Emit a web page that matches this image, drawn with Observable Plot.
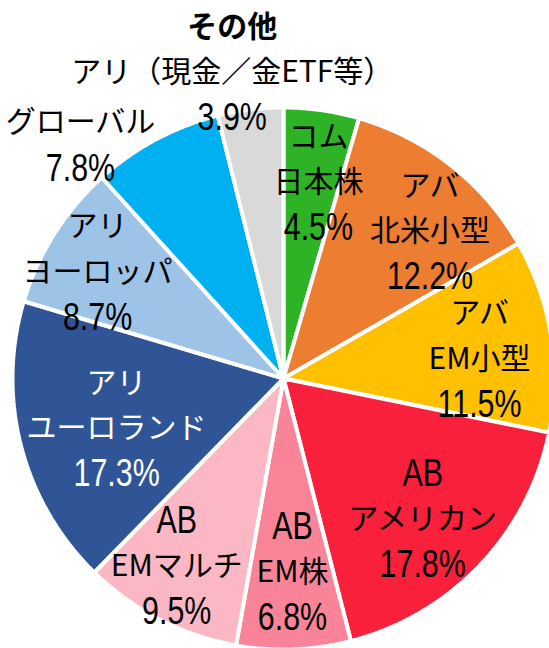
<!DOCTYPE html>
<html><head><meta charset="utf-8">
<script src="https://cdn.jsdelivr.net/npm/d3@7"></script>
<script src="https://cdn.jsdelivr.net/npm/@observablehq/plot@0.6"></script>
<style>html,body{margin:0;padding:0;background:#fff;overflow:hidden}</style>
</head><body><div id="chart"></div>
<script>
// ---- data ----
const names = ["コム\n日本株", "アバ\n北米小型", "アバ\nEM小型", "AB\nアメリカン", "AB\nEM株", "AB\nEMマルチ", "アリ\nユーロランド", "アリ\nヨーロッパ", "グローバル", "その他\nアリ（現金／金ETF等）"];
const shares = [4.5, 12.2, 11.5, 17.8, 6.8, 9.5, 17.3, 8.7, 7.8, 3.9];
const sliceColors = ["#2eb226", "#ed7d31", "#ffc000", "#f8203a", "#fa8497", "#fbb8c4", "#2f5597", "#9dc3e6", "#00b0f0", "#d9d9d9"];
const labelColors = ["#000", "#000", "#000", "#000", "#000", "#000", "#fff", "#000", "#000", "#000"];
// label placement: radius (fraction of pie radius) and angle nudge (deg) from slice mid-angle
const labelRadius = [0.734, 0.765, 0.727, 0.731, 0.716, 0.798, 0.643, 0.79, 1.14, 1.144];
const labelNudge = [2.0, 6.8, 3.6, 1.8, -0.5, 2.4, -2.1, -2.5, -13, -2.5];

// ---- layout ----
const W = 549, H = 648, CX = 283, CY = 378, R = 271;
const FONT = 30, TALL_FONT = 38, NARROW = 0.8, PITCH = 45.5;

const pie = d3.pie().sort(null).value(d => d)(shares);
const rad = Math.PI / 180;

// slice polygons
const slicePts = [];
pie.forEach((p, i) => {
  slicePts.push({i, x: 0, y: 0, color: sliceColors[i]});
  const n = Math.max(8, Math.ceil((p.endAngle - p.startAngle) / (0.5 * rad)));
  for (let k = 0; k <= n; k++) {
    const a = p.startAngle + (p.endAngle - p.startAngle) * k / n;
    slicePts.push({i, x: Math.sin(a), y: Math.cos(a), color: sliceColors[i]});
  }
});

// label lines
const isTall = t => /^[A-Z0-9.%]+$/.test(t);
const textLines = [];
pie.forEach((p, i) => {
  const mid = (p.startAngle + p.endAngle) / 2 + labelNudge[i] * rad;
  const r = labelRadius[i];
  const ax = r * Math.sin(mid), ay = r * Math.cos(mid);
  const lines = [...names[i].split("\n"), shares[i].toFixed(1) + "%"];
  lines.forEach((t, j) => {
    const off = (j - (lines.length - 1) / 2) * PITCH / R;
    textLines.push({x: ax, y: ay - off, text: t, color: labelColors[i], bold: i === 9 && j === 0, tall: isTall(t)});
  });
});

const cjk = "'Noto Sans CJK JP', 'Noto Sans', sans-serif";
const latin = "'Liberation Sans', Arial, sans-serif";
const textOpts = {x: "x", y: "y", text: "text", fill: "color", fontSize: FONT, fontFamily: cjk, textAnchor: "middle", lineAnchor: "middle"};
const chart = Plot.plot({
  width: W, height: H,
  margin: 0,
  x: {domain: [-CX / R, (W - CX) / R], axis: null},
  y: {domain: [-(H - CY) / R, CY / R], axis: null},
  color: {type: "identity"},
  style: {background: "#fff"},
  marks: [
    Plot.line(slicePts, {x: "x", y: "y", z: "i", fill: "color", stroke: "#fff", strokeWidth: 4, curve: "linear-closed", strokeLinejoin: "miter"}),
    Plot.text(textLines.filter(d => !d.bold && !d.tall), textOpts),
    Plot.text(textLines.filter(d => d.tall), {...textOpts, fontSize: TALL_FONT, fontFamily: latin}),
    Plot.text(textLines.filter(d => d.bold), {...textOpts, fontWeight: "bold"})
  ]
});
// the reference uses a tall, narrow face for Latin letters and digits: condense those lines about their anchor
d3.select(chart).selectAll("text").each(function () {
  if (!isTall(this.textContent.trim())) return;
  const tf = this.getAttribute("transform") || "";
  let px = +this.getAttribute("x") || 0, py = +this.getAttribute("y") || 0;
  const m = /translate\(\s*([-\d.e]+)[ ,]+([-\d.e]+)\s*\)/.exec(tf);
  if (m) { px += +m[1]; py += +m[2]; }
  this.setAttribute("transform", `translate(${px},${py}) scale(${NARROW},1) translate(${-px},${-py}) ${tf}`.trim());
});
document.getElementById("chart").append(chart);
</script>
</body></html>
